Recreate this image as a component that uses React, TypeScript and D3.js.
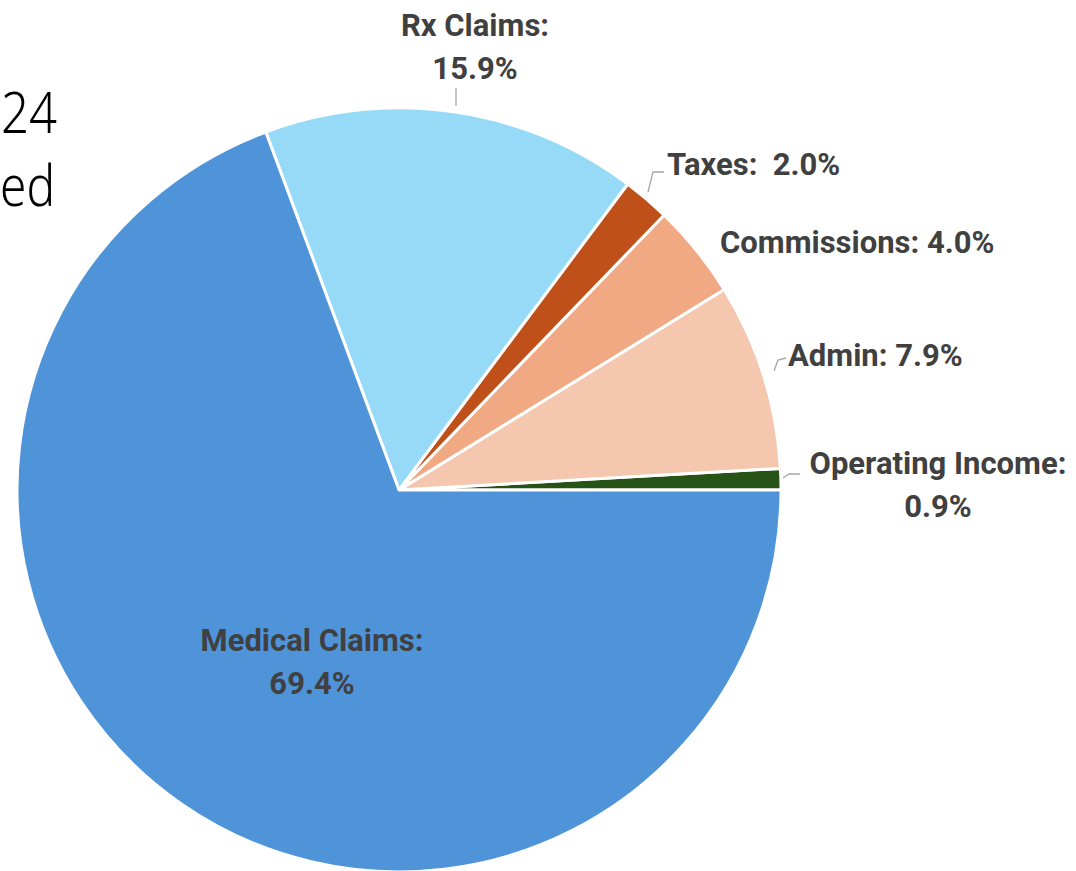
import React from "react";
import * as d3 from "d3";

const categories = ["Operating Income", "Admin", "Commissions", "Taxes", "Rx Claims", "Medical Claims"];
const values = [0.9, 7.9, 4.0, 2.0, 15.9, 69.4];
const colors = ["#275317", "#F4C7AE", "#F1A983", "#C0501A", "#97DAF7", "#4F94D9"];
const titleFragments = ["24", "ed"];

const W = 1076, H = 871;
const cx = 399, cy = 490, R = 382;

// label layout (positions of text, per category)
const labelLayout: Record<string, { lines: string[]; x: number; y: number; anchor: string; leader?: number[][] }> = {
  "Operating Income": { lines: ["Operating Income:", "0.9%"], x: 938, y: 474, anchor: "middle", leader: [[783, 478], [789, 474], [800, 474]] },
  "Admin": { lines: ["Admin: 7.9%"], x: 788, y: 366, anchor: "start", leader: [[774, 371], [778, 360], [786, 358]] },
  "Commissions": { lines: ["Commissions: 4.0%"], x: 720, y: 253, anchor: "start" },
  "Taxes": { lines: ["Taxes:  2.0%"], x: 667, y: 175, anchor: "start", leader: [[648, 192], [653, 172], [664, 172]] },
  "Rx Claims": { lines: ["Rx Claims:", "15.9%"], x: 475, y: 36, anchor: "middle", leader: [[456, 88], [456, 106]] },
  "Medical Claims": { lines: ["Medical Claims:", "69.4%"], x: 312, y: 651, anchor: "middle" },
};

export default function App() {
  const data = categories.map((c, i) => ({ c, v: values[i], color: colors[i] }));
  const pie = d3.pie<any>().value((d) => d.v).sort(null).startAngle(Math.PI / 2).endAngle(Math.PI / 2 - 2 * Math.PI);
  const arcs = pie(data);
  const arc = d3.arc<any>().innerRadius(0).outerRadius(R);
  const line = d3.line();
  return (
    <svg width={W} height={H} style={{ position: "absolute", left: 0, top: 0, background: "#fff" }}>
      <g transform={`translate(${cx},${cy})`}>
        {arcs.map((a, i) => (
          <path key={i} d={arc(a) || ""} fill={a.data.color} stroke="#fff" strokeWidth={3} strokeLinejoin="round" />
        ))}
      </g>
      {categories.map((c) => {
        const L = labelLayout[c];
        return (
          <g key={c}>
            {L.leader && <path d={line(L.leader as any) || ""} fill="none" stroke="#A6A6A6" strokeWidth={1.3} />}
            <text x={L.x} y={L.y} textAnchor={L.anchor} fontFamily="Roboto, sans-serif" fontWeight={700} fontSize={31} fill="#404040">
              {L.lines.map((ln, k) => (
                <tspan key={k} x={L.x} dy={k === 0 ? 0 : 43} style={{ whiteSpace: "pre" }}>{ln}</tspan>
              ))}
            </text>
          </g>
        );
      })}
      <text x={57} y={133} textAnchor="end" textLength={56} lengthAdjust="spacingAndGlyphs" fontFamily="'Noto Sans', sans-serif" fontWeight={300} fontSize={57} fill="#000">{titleFragments[0]}</text>
      <text x={55} y={206} textAnchor="end" textLength={55} lengthAdjust="spacingAndGlyphs" fontFamily="'Noto Sans', sans-serif" fontWeight={300} fontSize={57} fill="#000">{titleFragments[1]}</text>
    </svg>
  );
}
